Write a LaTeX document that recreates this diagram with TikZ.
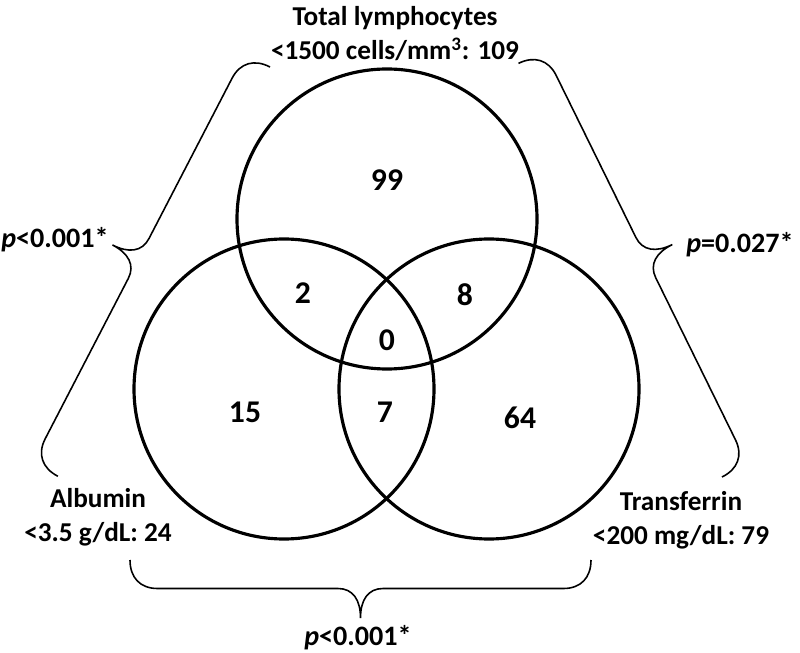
\documentclass[tikz,border=0pt]{standalone}
\usepackage{fontspec}
\setmainfont{Carlito}
\usetikzlibrary{positioning}

\tikzset{pics/curly/.style={code={
  \draw[brc] (0,0) .. controls (0,-0.35) and (0.2,-0.57) .. (0.55,-0.57) -- ({#1/2-0.45},-0.57) .. controls ({#1/2-0.15},-0.57) and (#1/2,-0.8) .. (#1/2,-1.16) .. controls (#1/2,-0.8) and ({#1/2+0.15},-0.57) .. ({#1/2+0.45},-0.57) -- ({#1-0.55},-0.57) .. controls ({#1-0.2},-0.57) and (#1,-0.35) .. (#1,0);}}}

\begin{document}
\begin{tikzpicture}[set/.style={draw,circle,line width=1.8pt,minimum size=6cm,inner sep=0pt},n/.style={font=\fontsize{18}{20}\selectfont\bfseries},lbl/.style={align=center,font=\fontsize{15.5}{19.5}\selectfont\bfseries},pv/.style={font=\fontsize{16}{19}\selectfont\bfseries},brc/.style={line width=0.9pt}]
\useasboundingbox (0,0) rectangle (16,-13.06);
\node[set](lym) at (7.74,-4.38){};\node[set](alb) at (5.68,-7.78){};\node[set](trf) at (9.78,-7.78){};
\node[n](only1) at (7.74,-3.6){99};\node[n](la) at (6.06,-5.86){2};\node[n](lt) at (9.3,-5.9){8};\node[n](all) at (7.74,-6.8){0};
\node[n](only2) at (4.9,-8.24){15};\node[n](at) at (7.7,-8.24){7};\node[n](only3) at (10.4,-8.36){64};
\node[lbl](tlym) at (7.9,-0.67){Total lymphocytes\\<1500 cells/mm\textsuperscript{3}: 109};
\node[lbl](talb) at (1.96,-10.34){Albumin\\<3.5 g/dL: 24};
\node[lbl](ttrf) at (13.62,-10.4){Transferrin\\<200 mg/dL: 79};
% braces between the sets
\pic[rotate=-117.4] at (5.4,-1.34){curly=9.22};
\pic[rotate=116.2] at (14.44,-9.54){curly=9.22};
\pic at (2.6,-11.2){curly=9.22};
\node[pv](pla) at (1.1,-4.8){\textit{p}<0.001*};
\node[pv](plt) at (14.8,-4.9){\textit{p}=0.027*};
\node[pv](pat) at (7.16,-12.76){\textit{p}<0.001*};
\end{tikzpicture}
\end{document}
